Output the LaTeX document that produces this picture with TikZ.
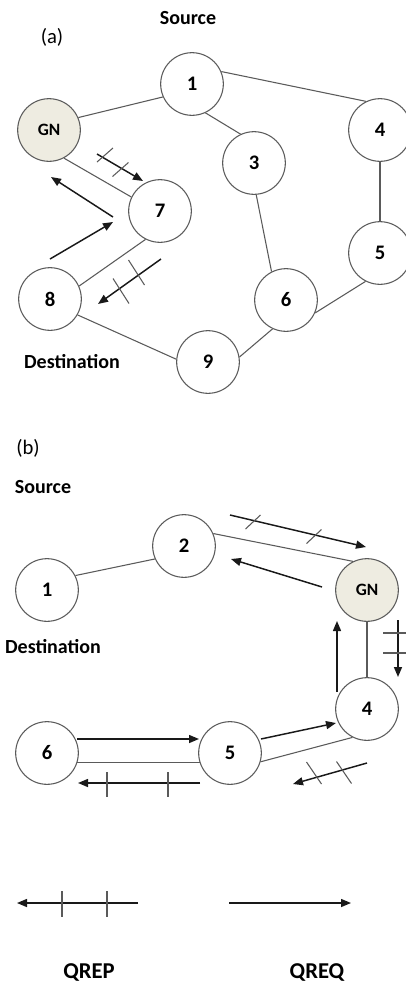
\documentclass[tikz,border=0pt]{standalone}
\usepackage{fontspec}
\setmainfont{Carlito}
\usetikzlibrary{arrows.meta}

\definecolor{gnfill}{HTML}{EEECE1}
\definecolor{linegray}{HTML}{5A5A5A}

\tikzset{
  peer/.style={circle, draw=linegray, line width=0.8pt, fill=white, minimum size=47pt,
               inner sep=0pt, font=\fontsize{15.5}{15.5}\selectfont\bfseries},
  gateway/.style={peer, fill=gnfill, font=\fontsize{13}{13}\selectfont\bfseries},
  link/.style={draw=linegray, line width=0.8pt},
  msg/.style={draw=black!90, line width=1.1pt, -{Triangle[length=7.5pt,width=6pt]}},
  tickmark/.style={draw=linegray, line width=0.8pt},
  caption/.style={font=\fontsize{15}{15}\selectfont\bfseries, inner sep=0pt},
  legendtext/.style={font=\fontsize{17}{17}\selectfont\bfseries, inner sep=0pt},
  panel/.style={font=\fontsize{15.5}{15.5}\selectfont, inner sep=0pt}
}

\begin{document}
\begin{tikzpicture}[x=0.75pt, y=-0.75pt]
\useasboundingbox (0,0) rectangle (406,983);

% ---------------- (a) ----------------
\node[panel]   (la)   at (52,37)  {(a)};
\node[caption] (srcA) at (188,18) {Source};
\node[caption] (dstA) at (72,362) {Destination};

\node[gateway] (aGN) at (49,130)   {GN};
\node[peer]    (a1)  at (192,84)   {1};
\node[peer]    (a3)  at (254,163)  {3};
\node[peer]    (a4)  at (380,130)  {4};
\node[peer]    (a5)  at (380,253)  {5};
\node[peer]    (a6)  at (286,300)  {6};
\node[peer]    (a7)  at (160,211)  {7};
\node[peer]    (a8)  at (50,299)   {8};
\node[peer]    (a9)  at (208,362)  {9};

\draw[link] (aGN.23)  -- (a1.204);
\draw[link] (a1.23)   -- (a4.116);
\draw[link] (a1.295)  -- (a3.115);
\draw[link] (a4.270)  -- (a5.90);
\draw[link] (a3.274)  -- (a6.117);
\draw[link] (a5.243)  -- (a6.336);
\draw[link] (a6.245)  -- (a9.9);
\draw[link] (a9.175)  -- (a8.330);
\draw[link] (aGN.298) -- (a7.154);
\draw[link] (a7.243)  -- (a8.24);

% request GN -> 7 (two ticks)
\coordinate (qa1s) at (97,154);  \coordinate (qa1e) at (143,181);
\draw[msg] (qa1s) -- (qa1e);
\coordinate (ka1) at (105,155);  \coordinate (ka2) at (120.5,169.5);
\draw[tickmark] (ka1) ++(-8,7) -- ++(16,-14);
\draw[tickmark] (ka2) ++(-8,7) -- ++(16,-14);

% reply 7 -> GN
\coordinate (ra1s) at (113,217); \coordinate (ra1e) at (51,177);
\draw[msg] (ra1s) -- (ra1e);

% reply 8 -> 7
\coordinate (ra2s) at (50,259);  \coordinate (ra2e) at (113,222);
\draw[msg] (ra2s) -- (ra2e);

% request 7 -> 8 (two ticks)
\coordinate (qa2s) at (161,259); \coordinate (qa2e) at (98,304);
\draw[msg] (qa2s) -- (qa2e);
\coordinate (ka3) at (136.5,272.5); \coordinate (ka4) at (121,291);
\draw[tickmark] (ka3) ++(-8,-12.5) -- ++(16,25);
\draw[tickmark] (ka4) ++(-8,-12.5) -- ++(16,25);

% ---------------- (b) ----------------
\node[panel]   (lb)   at (28,448)  {(b)};
\node[caption] (srcB) at (43,487)  {Source};
\node[caption] (dstB) at (53,647)  {Destination};

\node[peer]    (b1)  at (47,590)   {1};
\node[peer]    (b2)  at (184,546)  {2};
\node[gateway] (bGN) at (367,590)  {GN};
\node[peer]    (b4)  at (367,709)  {4};
\node[peer]    (b5)  at (230,753)  {5};
\node[peer]    (b6)  at (47,753)   {6};

\draw[link] (b1.27)   -- (b2.204);
\draw[link] (b2.23)   -- (bGN.116);
\draw[link] (bGN.270) -- (b4.90);
\draw[link] (b4.243)  -- (b5.344);
\draw[link] (b5.198)  -- (b6.342);

% request 2 -> GN (two ticks)
\coordinate (qb1s) at (230,515); \coordinate (qb1e) at (366,547);
\draw[msg] (qb1s) -- (qb1e);
\coordinate (kb1) at (253,522); \coordinate (kb2) at (314,536.5);
\draw[tickmark] (kb1) ++(-7.5,7) -- ++(15,-14);
\draw[tickmark] (kb2) ++(-7.5,7) -- ++(15,-14);

% reply GN -> 2
\coordinate (rb1s) at (322,587); \coordinate (rb1e) at (231,559);
\draw[msg] (rb1s) -- (rb1e);

% request GN -> 4 (two ticks)
\coordinate (qb2s) at (398,620); \coordinate (qb2e) at (398,677);
\draw[msg] (qb2s) -- (qb2e);
\coordinate (kb3) at (395,633); \coordinate (kb4) at (395,653);
\draw[tickmark] (kb3) ++(-12,0) -- ++(24,0);
\draw[tickmark] (kb4) ++(-12,0) -- ++(24,0);

% reply 4 -> GN
\coordinate (rb2s) at (337,692); \coordinate (rb2e) at (337,621);
\draw[msg] (rb2s) -- (rb2e);

% reply 6 -> 5
\coordinate (rb3s) at (77,739);  \coordinate (rb3e) at (199,739);
\draw[msg] (rb3s) -- (rb3e);

% request 5 -> 6 (two ticks)
\coordinate (qb3s) at (200,783); \coordinate (qb3e) at (78,783);
\draw[msg] (qb3s) -- (qb3e);
\coordinate (kb5) at (107,784.5); \coordinate (kb6) at (168,784.5);
\draw[tickmark] (kb5) ++(0,-12.5) -- ++(0,25);
\draw[tickmark] (kb6) ++(0,-12.5) -- ++(0,25);

% reply 5 -> 4
\coordinate (rb4s) at (261,739); \coordinate (rb4e) at (336,723);
\draw[msg] (rb4s) -- (rb4e);

% request 4 -> 5 (two ticks)
\coordinate (qb4s) at (367,763); \coordinate (qb4e) at (293,784);
\draw[msg] (qb4s) -- (qb4e);
\coordinate (kb7) at (314,773); \coordinate (kb8) at (344,772.5);
\draw[tickmark] (kb7) ++(-7.5,-11) -- ++(15,22);
\draw[tickmark] (kb8) ++(-7.5,-11) -- ++(15,22);

% ---------------- legend ----------------
\coordinate (lgPs) at (138,903); \coordinate (lgPe) at (17,903);
\draw[msg] (lgPs) -- (lgPe);
\coordinate (kl1) at (62,904); \coordinate (kl2) at (107,904);
\draw[tickmark] (kl1) ++(0,-13) -- ++(0,26);
\draw[tickmark] (kl2) ++(0,-13) -- ++(0,26);

\coordinate (lgQs) at (229,903); \coordinate (lgQe) at (351,903);
\draw[msg] (lgQs) -- (lgQe);

\node[legendtext] (qrep) at (89,972)  {QREP};
\node[legendtext] (qreq) at (317,972) {QREQ};
\end{tikzpicture}
\end{document}
